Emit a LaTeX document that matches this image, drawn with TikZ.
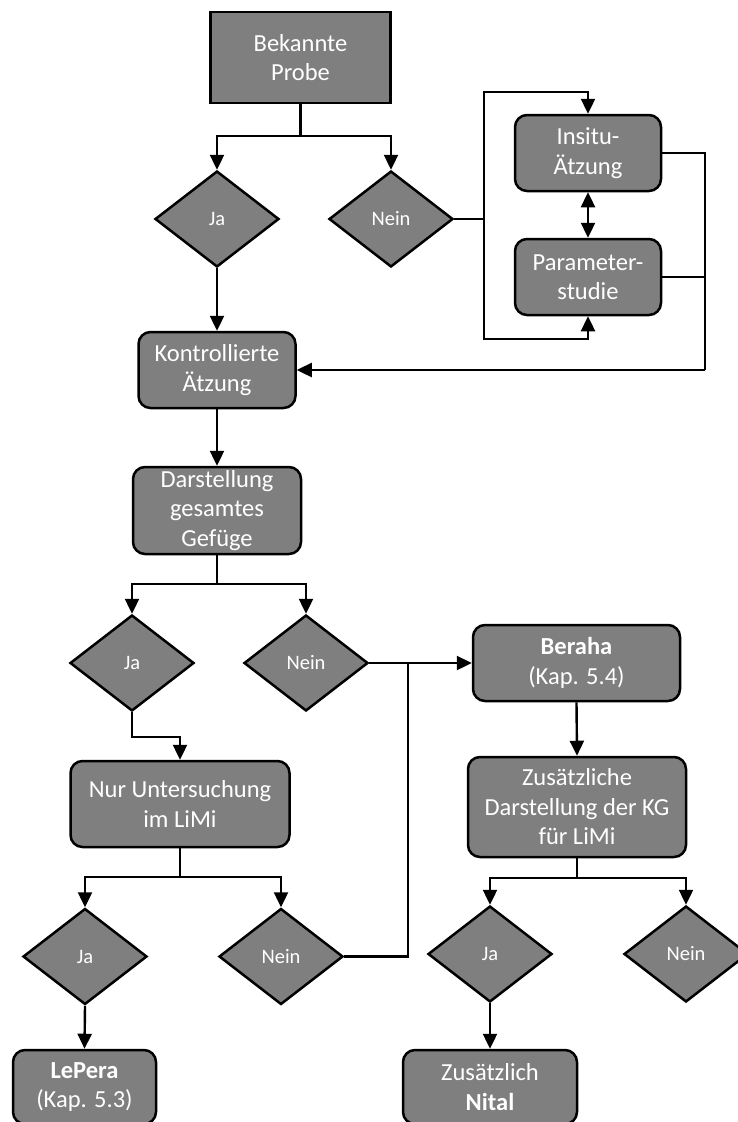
\documentclass[tikz,border=0pt]{standalone}
\usepackage{fontspec}
\setmainfont{Carlito}
\usetikzlibrary{arrows.meta,shapes.geometric}
\definecolor{boxgray}{HTML}{7F7F7F}
\begin{document}
\begin{tikzpicture}[x=1pt,y=-1pt,
  base/.style={draw=black, line width=2.5pt, fill=boxgray, text=white, inner sep=0pt, align=center,
    font=\fontsize{24.5}{29.5}\selectfont},
  sqbox/.style={base, rectangle},
  rbox/.style={base, rectangle, rounded corners=12pt},
  decision/.style={base, diamond, minimum width=124pt, minimum height=96pt, font=\fontsize{20.5}{24}\selectfont},
  conn/.style={line width=2.4pt, black},
  arr/.style={conn, -{Triangle[length=15pt,width=14pt]}},
  darr/.style={conn, {Triangle[length=15pt,width=14pt]}-{Triangle[length=15pt,width=14pt]}}
]
\clip (0,0) rectangle (738,1122);
\fill[white] (0,0) rectangle (738,1122);

% nodes
\node[sqbox, minimum width=180pt, minimum height=91pt] (bek) at (300.5,57.5) {Bekannte\\Probe};
\node[decision] (ja1) at (217,219) {Ja};
\node[decision] (nein1) at (391,219) {Nein};
\node[rbox, minimum width=146pt, minimum height=76pt] (insitu) at (588,153) {Insitu-\\Ätzung};
\node[rbox, minimum width=146pt, minimum height=76pt] (param) at (588,277) {Parameter-\\studie};
\node[rbox, minimum width=157pt, minimum height=76pt] (kontr) at (217,370) {Kontrollierte\\Ätzung};
\node[rbox, minimum width=168pt, minimum height=87pt] (darst) at (217,510.5) {Darstellung\\gesamtes\\Gefüge};
\node[decision] (ja2) at (132,663) {Ja};
\node[decision] (nein2) at (306,663) {Nein};
\node[rbox, minimum width=219pt, minimum height=86pt] (nur) at (180,804) {Nur Untersuchung\\im LiMi};
\node[rbox, minimum width=207pt, minimum height=76pt] (beraha) at (576.5,663) {\textbf{Beraha}\\(Kap. 5.4)};
\node[rbox, minimum width=218pt, minimum height=100pt] (zus) at (577,807) {Zusätzliche\\Darstellung der KG\\für LiMi};
\node[decision] (ja3) at (85,956.5) {Ja};
\node[decision] (nein3) at (281,956.5) {Nein};
\node[decision] (ja4) at (490,954) {Ja};
\node[decision] (nein4) at (686,954) {Nein};
\node[rbox, minimum width=143pt, minimum height=74pt] (lepera) at (84.5,1087) {\textbf{LePera}\\(Kap. 5.3)};
\node[rbox, minimum width=174pt, minimum height=74pt] (nital) at (490,1087) {Zusätzlich\\\textbf{Nital}};

% junction coordinates
\coordinate (b1) at (300.5,136);
\coordinate (j1) at (484,219);
\coordinate (t1) at (484,92);
\coordinate (u1) at (484,339);
\coordinate (r1) at (705,153);
\coordinate (r2) at (705,370);
\coordinate (b2) at (217,584);
\coordinate (j2) at (408,663);
\coordinate (b3) at (180,877);
\coordinate (b4) at (577,878);

% connectors
\draw[conn] (bek.south) -- (b1);
\draw[arr] (b1) -| (ja1.north);
\draw[arr] (b1) -| (nein1.north);
\draw[conn] (nein1.east) -- (j1);
\draw[arr] (j1) -- (t1) -| (insitu.north);
\draw[arr] (j1) -- (u1) -| (param.south);
\draw[darr] (insitu.south) -- (param.north);
\draw[conn] (insitu.east) -- (r1) -- (r2);
\draw[conn] (param.east) -- (param.east -| r1);
\draw[arr] (r2) -- (kontr.east);
\draw[arr] (ja1.south) -- (kontr.north);
\draw[arr] (kontr.south) -- (darst.north);
\draw[conn] (darst.south) -- (b2);
\draw[arr] (b2) -| (ja2.north);
\draw[arr] (b2) -| (nein2.north);
\draw[arr] (ja2.south) -- ++(0,25) -| (nur.north);
\draw[arr] (nein2.east) -- (beraha.west);
\draw[conn] (nein3.east) -| (j2);
\draw[conn] (nur.south) -- (b3);
\draw[arr] (b3) -| (ja3.north);
\draw[arr] (b3) -| (nein3.north);
\draw[arr] (beraha.south) -- (zus.north);
\draw[conn] (zus.south) -- (b4);
\draw[arr] (b4) -| (ja4.north);
\draw[arr] (b4) -| (nein4.north);
\draw[arr] (ja3.south) -- (lepera.north);
\draw[arr] (ja4.south) -- (nital.north);
\end{tikzpicture}
\end{document}
